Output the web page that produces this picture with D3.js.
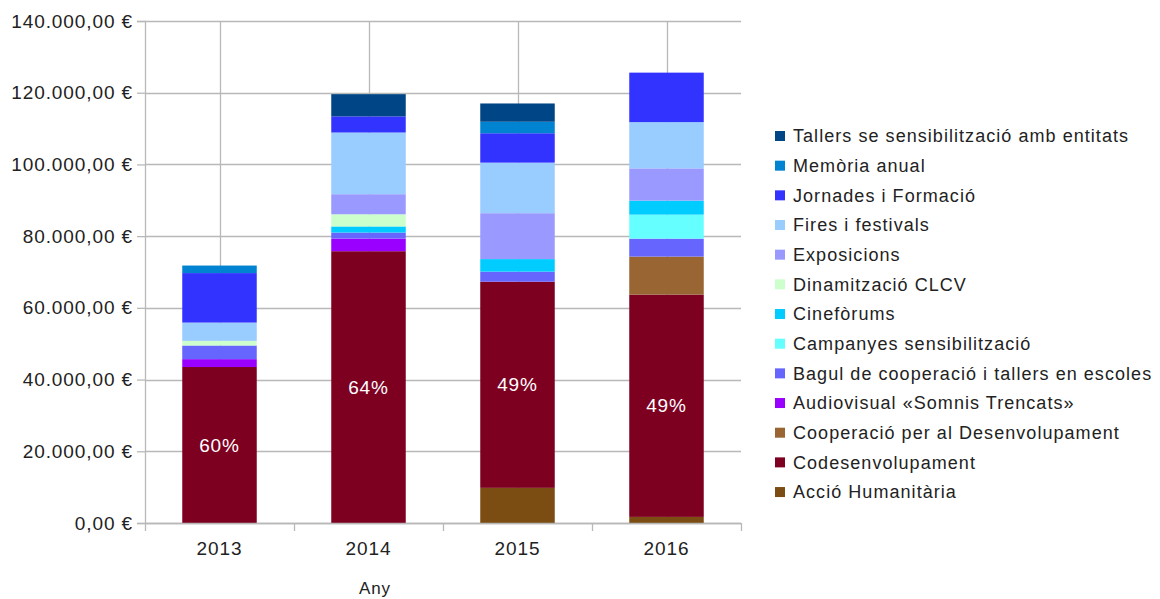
<!DOCTYPE html>
<html>
<head>
<meta charset="utf-8">
<script src="https://cdn.jsdelivr.net/npm/d3@7"></script>
<style>
  html, body { margin: 0; padding: 0; background: #fff; }
  svg { display: block; font-family: "Liberation Sans", Arial, sans-serif; }
</style>
</head>
<body>
<svg id="chart" width="1160" height="599"></svg>
<script>
// ---- data ----
const years = ["2013", "2014", "2015", "2016"];
// series in stacking order (bottom to top)
const seriesNames = [
  "Acció Humanitària",
  "Codesenvolupament",
  "Cooperació per al Desenvolupament",
  "Audiovisual «Somnis Trencats»",
  "Bagul de cooperació i tallers en escoles",
  "Campanyes sensibilització",
  "Cinefòrums",
  "Dinamització CLCV",
  "Exposicions",
  "Fires i festivals",
  "Jornades i Formació",
  "Memòria anual",
  "Tallers se sensibilització amb entitats"
];
const seriesColors = [
  "#7b4d12", "#7e0021", "#996633", "#9900ff", "#6666ff", "#66ffff",
  "#00ccff", "#ccffcc", "#9999ff", "#99ccff", "#3333ff", "#0084d1", "#004586"
];
const accioHumanitaria   = [0, 0, 9800, 1700];
const codesenvolupament  = [43500, 75800, 57500, 62000];
const cooperacio         = [0, 0, 0, 10600];
const audiovisual        = [2200, 3500, 0, 0];
const bagul              = [3800, 1700, 2800, 5000];
const campanyes          = [0, 0, 0, 6700];
const cinefors           = [0, 1700, 3500, 3900];
const dinamitzacio       = [1300, 3400, 0, 0];
const exposicions        = [0, 5600, 12800, 9000];
const fires              = [5100, 17200, 14100, 12900];
const jornades           = [13800, 4500, 8200, 13800];
const memoria            = [2100, 0, 3200, 0];
const tallers            = [0, 6200, 5100, 0];
const codesLabels = ["60%", "64%", "49%", "49%"];
const yTicks = [0, 20000, 40000, 60000, 80000, 100000, 120000, 140000];
const xTitle = "Any";

const seriesValues = [accioHumanitaria, codesenvolupament, cooperacio, audiovisual, bagul,
  campanyes, cinefors, dinamitzacio, exposicions, fires, jornades, memoria, tallers];

// ---- build table ----
const table = years.map((y, i) => {
  const row = { year: y };
  seriesNames.forEach((s, k) => { row[s] = seriesValues[k][i]; });
  return row;
});
const stacked = d3.stack().keys(seriesNames)(table);

const svg = d3.select("#chart");
const x = d3.scaleBand().domain(years).range([145, 741]).paddingInner(0.5).paddingOuter(0.25);
const y = d3.scaleLinear().domain([0, 140000]).range([523, 21]);

const locale = d3.formatLocale({ decimal: ",", thousands: ".", grouping: [3], currency: ["", " €"] });
const fmt = locale.format(",.2f");

const gridColor = "#b8b8b8";
const textColor = "#222";
const fs = 19;
const ls = "0.9px";

// horizontal gridlines
svg.append("g").selectAll("line").data(yTicks).join("line")
  .attr("x1", 145).attr("x2", 741)
  .attr("y1", d => Math.round(y(d)) + 0.5).attr("y2", d => Math.round(y(d)) + 0.5)
  .attr("stroke", gridColor).attr("stroke-width", 1.3);
// vertical gridlines at category centres
svg.append("g").selectAll("line").data(years).join("line")
  .attr("x1", d => Math.round(x(d) + x.bandwidth() / 2) + 0.5)
  .attr("x2", d => Math.round(x(d) + x.bandwidth() / 2) + 0.5)
  .attr("y1", y(140000)).attr("y2", y(0))
  .attr("stroke", gridColor).attr("stroke-width", 1.3);

// bars
svg.append("g").selectAll("g").data(stacked).join("g")
  .attr("fill", (d, i) => seriesColors[i])
  .selectAll("rect").data(d => d).join("rect")
  .attr("x", d => x(d.data.year))
  .attr("width", x.bandwidth())
  .attr("y", d => y(d[1]))
  .attr("height", d => Math.max(0, y(d[0]) - y(d[1])));

// data labels on Codesenvolupament
const codesLayer = stacked[1];
svg.append("g").selectAll("text").data(codesLayer).join("text")
  .attr("x", d => x(d.data.year) + x.bandwidth() / 2)
  .attr("y", d => (y(d[0]) + y(d[1])) / 2)
  .attr("dy", "0.35em")
  .attr("text-anchor", "middle")
  .attr("fill", "#fff")
  .attr("font-size", fs).attr("letter-spacing", ls)
  .text((d, i) => codesLabels[i]);

// y axis
const yAxis = d3.axisLeft(y).tickValues(yTicks).tickFormat(d => fmt(d) + " €").tickSize(8).tickPadding(4);
const gy = svg.append("g").attr("transform", "translate(145,0)").call(yAxis);
gy.select(".domain").attr("stroke", gridColor).attr("stroke-width", 1.3);
gy.selectAll(".tick line").attr("stroke", gridColor).attr("stroke-width", 1.3);
gy.selectAll(".tick text").attr("fill", textColor).attr("font-size", fs).attr("letter-spacing", ls)
  .attr("font-family", "Liberation Sans, Arial, sans-serif");

// x axis
const gx = svg.append("g").attr("transform", "translate(0,523)");
gx.append("line").attr("x1", 145).attr("x2", 741).attr("y1", 0.5).attr("y2", 0.5)
  .attr("stroke", gridColor).attr("stroke-width", 1.3);
const boundaries = years.map(d => x(d) - x.step() * x.paddingInner() / 2).concat([741]);
gx.selectAll("line.tk").data(boundaries).join("line").attr("class", "tk")
  .attr("x1", d => Math.round(d) + 0.5).attr("x2", d => Math.round(d) + 0.5)
  .attr("y1", 0).attr("y2", 8).attr("stroke", gridColor).attr("stroke-width", 1.3);
gx.selectAll("text").data(years).join("text")
  .attr("x", d => x(d) + x.bandwidth() / 2)
  .attr("y", 32)
  .attr("text-anchor", "middle")
  .attr("fill", textColor).attr("font-size", fs).attr("letter-spacing", ls)
  .text(d => d);

// x title
svg.append("text").attr("x", 375).attr("y", 594).attr("text-anchor", "middle")
  .attr("fill", textColor).attr("font-size", 17).attr("letter-spacing", ls).text(xTitle);

// legend (top = last series)
const legendItems = seriesNames.map((s, i) => ({ name: s, color: seriesColors[i] })).reverse();
const lg = svg.append("g").selectAll("g").data(legendItems).join("g")
  .attr("transform", (d, i) => `translate(775, ${136 + i * 29.67})`);
lg.append("rect").attr("x", 0).attr("y", -5).attr("width", 10).attr("height", 10)
  .attr("fill", d => d.color);
lg.append("text").attr("x", 18).attr("dy", "0.35em").attr("fill", textColor)
  .attr("font-size", 18).attr("letter-spacing", "1.05px").text(d => d.name);
</script>
</body>
</html>
